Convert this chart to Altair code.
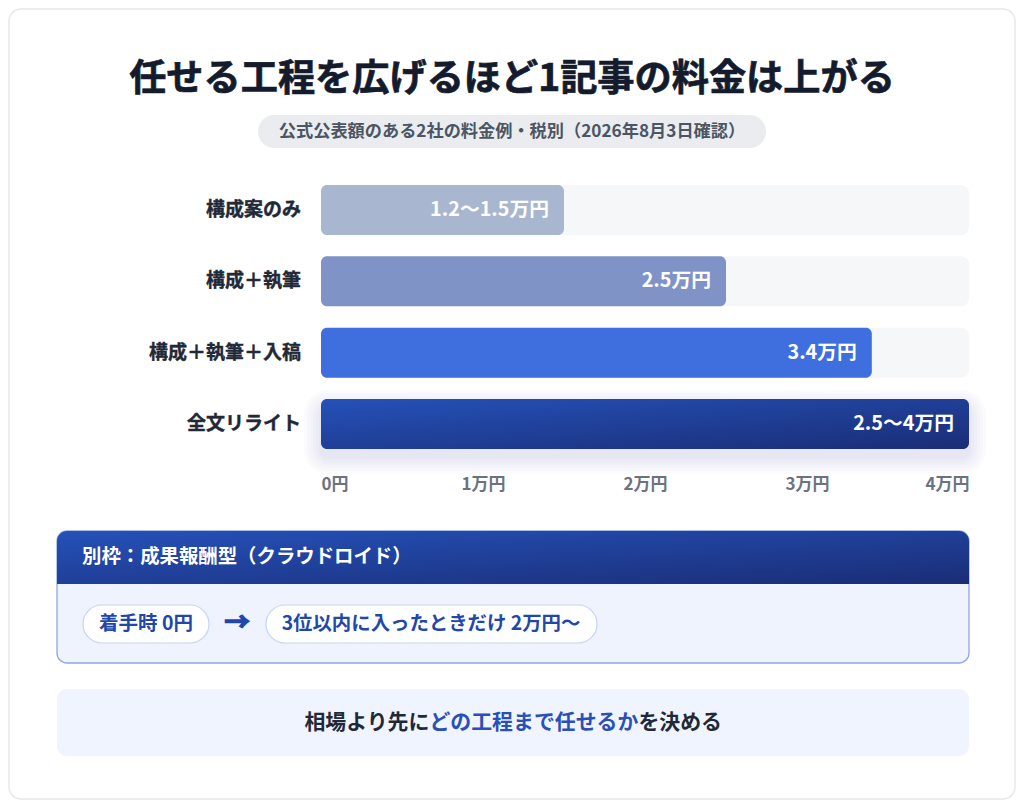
import altair as alt
import pandas as pd

# --- data ---
categories = ["構成案のみ", "構成＋執筆", "構成＋執筆＋入稿", "全文リライト"]
price_low = [1.2, 2.5, 3.4, 2.5]
price_high = [1.5, 2.5, 3.4, 4.0]
price_labels = ["1.2〜1.5万円", "2.5万円", "3.4万円", "2.5〜4万円"]
bar_colors = ["#a9b6cf", "#7f93c6", "#3f6fdf", "#2247ab"]
tick_values = [0, 1, 2, 3, 4]
tick_labels = ["0円", "1万円", "2万円", "3万円", "4万円"]

title_text = "任せる工程を広げるほど1記事の料金は上がる"
subtitle_text = "公式公表額のある2社の料金例・税別（2026年8月3日確認）"
box_title = "別枠：成果報酬型（クラウドロイド）"
step_labels = ["着手時 0円", "3位以内に入ったときだけ 2万円〜"]
footer_parts = ["相場より先に", "どの工程まで任せるか", "を決める"]

FONT = "Noto Sans CJK JP"
OX, OY = 8, 8  # page margin: positions below are in screenshot pixels

df = pd.DataFrame({
    "cat": categories,
    "low": price_low,
    "high": price_high,
    "label": price_labels,
    "zero": [0] * len(categories),
    "full": [tick_values[-1]] * len(categories),
})
one = pd.DataFrame({"k": [0]})

xscale = alt.Scale(domain=[tick_values[0], tick_values[-1]], range=[321 - OX, 969 - OX], nice=False)
yscale = alt.Scale(domain=categories, range=[185 - OY, 449 - OY], paddingInner=0.3, paddingOuter=0)

label_expr = "[" + ",".join(f"'{t}'" for t in tick_labels) + "][datum.value]"


def rect(x1, y1, x2, y2, **kw):
    return alt.Chart(one).mark_rect(**kw).encode(
        x=alt.value(x1 - OX), x2=alt.value(x2 - OX),
        y=alt.value(y1 - OY), y2=alt.value(y2 - OY),
    )


def text(x, y, s, **kw):
    kw.setdefault("font", FONT)
    kw.setdefault("fontWeight", "bold")
    kw.setdefault("baseline", "middle")
    kw.setdefault("align", "center")
    return alt.Chart(one).mark_text(text=s, **kw).encode(
        x=alt.value(x - OX), y=alt.value(y - OY)
    )


navy_grad = alt.Gradient(
    gradient="linear",
    stops=[alt.GradientStop(color="#2551b9", offset=0),
           alt.GradientStop(color="#1a2d76", offset=1)],
    x1=0, x2=1, y1=0, y2=1,
)

card = rect(9, 9, 1015, 799, fill="white", stroke="#e5e7eb", strokeWidth=1.5, cornerRadius=12)
# a thin stroke of the same colour makes the heavy headline weight
title = text(512, 80, title_text, fontSize=37.2, color="#141b2d", stroke="#141b2d", strokeWidth=0.7)
sub_pill = rect(258, 115, 766, 148, fill="#eaecf0", cornerRadius=17)
subtitle = text(512, 132, subtitle_text, fontSize=17.2, fontWeight="bold", color="#4b5563")

track = alt.Chart(df).mark_bar(color="#f6f7f9", cornerRadius=8).encode(
    x=alt.X("zero:Q", scale=xscale, axis=alt.Axis(
        values=tick_values, labelExpr=label_expr, labelFlush=True, orient="bottom",
        offset=-(792 - (484 - OY)), domain=False, ticks=False, tickSize=0, grid=False,
        labelPadding=0, labelBaseline="middle", labelFont=FONT, labelFontSize=17,
        labelFontWeight="bold", labelColor="#6b7280", title=None, zindex=1)),
    x2="full:Q",
    y=alt.Y("cat:N", scale=yscale, axis=None, sort=categories),
)

shadow = alt.layer(*[
    alt.Chart(df).transform_filter(alt.datum.cat == categories[-1]).mark_bar(
        color="#1e3a8a", opacity=0.02, cornerRadius=8 + e,
        xOffset=-e, x2Offset=e, yOffset=8, height=50 + 2 * e,
    ).encode(x="zero:Q", x2="high:Q", y=alt.Y("cat:N", sort=categories))
    for e in [2, 5, 8, 11, 14, 17]
])

bars = alt.Chart(df).transform_filter(alt.datum.cat != categories[-1]).mark_bar(cornerRadius=6).encode(
    x="zero:Q", x2="high:Q",
    y=alt.Y("cat:N", sort=categories),
    color=alt.Color("cat:N", scale=alt.Scale(domain=categories, range=bar_colors), legend=None),
)
top_bar = alt.Chart(df).transform_filter(alt.datum.cat == categories[-1]).mark_bar(
    cornerRadius=6, color=navy_grad
).encode(x="zero:Q", x2="high:Q", y=alt.Y("cat:N", sort=categories))

bar_text = alt.Chart(df).mark_text(
    align="right", baseline="middle", dx=-15, font=FONT, fontWeight="bold", fontSize=19.8, color="white"
).encode(x="high:Q", y=alt.Y("cat:N", sort=categories), text="label:N")

cat_text = alt.Chart(df).mark_text(
    align="right", baseline="middle", font=FONT, fontWeight="bold", fontSize=19, color="#1f2937",
    stroke="#1f2937", strokeWidth=0.4,
).encode(x=alt.value(301 - OX), y=alt.Y("cat:N", sort=categories), text="cat:N")

# separate pay-per-result box
box = rect(57, 531, 969, 663, fill="#eef3fe", stroke="#8ea7e3", strokeWidth=1.3, cornerRadius=10)
box_head = rect(57, 531, 969, 584, fill=navy_grad, cornerRadiusTopLeft=10, cornerRadiusTopRight=10)
box_head_text = text(82, 557, box_title, fontSize=19.4, color="white", align="left")
pill1 = rect(83, 605, 209, 643, fill="white", stroke="#c6d4f4", strokeWidth=1.2, cornerRadius=19)
pill1_text = text(146, 624, step_labels[0], fontSize=19.5, color="#2247ab")
arrow = text(237, 623, "→", fontSize=25, color="#2247ab", stroke="#2247ab", strokeWidth=1.6)
pill2 = rect(266, 605, 597, 643, fill="white", stroke="#c6d4f4", strokeWidth=1.2, cornerRadius=19)
pill2_text = text(431, 624, step_labels[1], fontSize=19.4, color="#2247ab")

footer = rect(57, 689, 969, 756, fill="#eff4fe", cornerRadius=10)
fs = 20.9
f_mid = 304 + len(footer_parts[0]) * fs
f_end = f_mid + len(footer_parts[1]) * fs
foot1 = text(f_mid, 723, footer_parts[0], fontSize=fs, color="#1f2937", align="right")
foot2 = text((f_mid + f_end) / 2, 723, footer_parts[1], fontSize=fs, color="#2a50b8")
foot3 = text(f_end, 723, footer_parts[2], fontSize=fs, color="#1f2937", align="left")

chart = alt.layer(
    card, title, sub_pill, subtitle,
    track, shadow, bars, top_bar, bar_text, cat_text,
    box, box_head, box_head_text, pill1, pill1_text, arrow, pill2, pill2_text,
    footer, foot1, foot2, foot3,
).properties(
    width=1008, height=792, padding=0,
    autosize=alt.AutoSizeParams(type="fit", contains="padding"),
    background="white",
).configure_view(stroke=None)

chart.save("out.html", embed_options={"renderer": "svg", "actions": False})
